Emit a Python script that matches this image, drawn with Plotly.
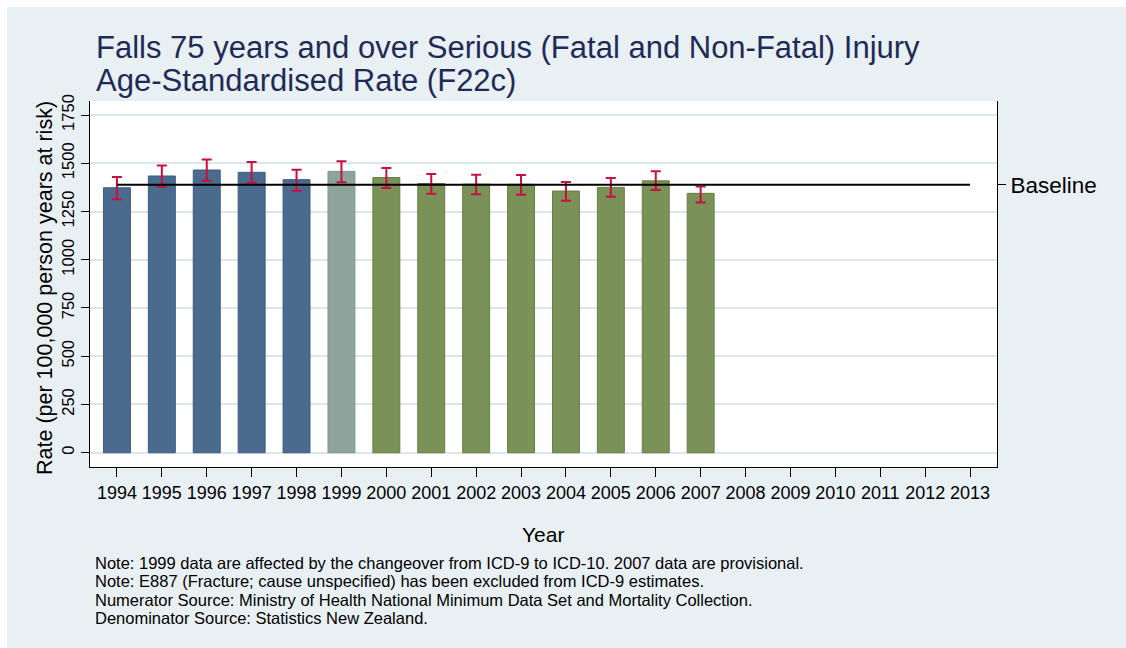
import plotly.graph_objects as go

# Age-standardised rate of serious falls injury, 75 years and over
years = [1994, 1995, 1996, 1997, 1998, 1999, 2000, 2001, 2002, 2003, 2004, 2005, 2006, 2007]
rate = [1373, 1434, 1465, 1453, 1415, 1458, 1426, 1395, 1392, 1391, 1356, 1375, 1409, 1344]
ci_upper = [1429, 1489, 1520, 1506, 1466, 1510, 1476, 1444, 1441, 1439, 1403, 1423, 1458, 1380]
ci_lower = [1314, 1378, 1409, 1399, 1358, 1401, 1372, 1342, 1339, 1337, 1306, 1327, 1361, 1297]
baseline = 1389
axis_years = list(range(1994, 2014))
y_ticks = [0, 250, 500, 750, 1000, 1250, 1500, 1750]

notes = [
    "Note: 1999 data are affected by the changeover from ICD-9 to ICD-10. 2007 data are provisional.",
    "Note: E887 (Fracture; cause unspecified) has been excluded from ICD-9 estimates.",
    "Numerator Source: Ministry of Health National Minimum Data Set and Mortality Collection.",
    "Denominator Source: Statistics New Zealand.",
]

BLUE, BLUE_EDGE = "#4A6A8E", "#3C5C80"
TRANS, TRANS_EDGE = "#8CA49B", "#7E978D"
GREEN, GREEN_EDGE = "#7A9157", "#667E45"
ERR = "#C8103F"
BG = "#E9F0F3"
FONT = "Liberation Sans, Arial, sans-serif"

# ICD-9 years, the changeover year, then ICD-10 years
fill = [BLUE if y < 1999 else TRANS if y == 1999 else GREEN for y in years]
edge = [BLUE_EDGE if y < 1999 else TRANS_EDGE if y == 1999 else GREEN_EDGE for y in years]

W, H = 1126, 648
L, R, T, B = 90, 997, 101, 467
y_range = [-74, 1822.6]
x_range = [1993.4, 2013.6]

fig = go.Figure()
fig.add_trace(go.Bar(
    x=years, y=rate, width=0.6,
    marker=dict(color=fill, line=dict(color=edge, width=1)),
    error_y=dict(type="data", symmetric=False,
                 array=[u - r for u, r in zip(ci_upper, rate)],
                 arrayminus=[r - l for r, l in zip(rate, ci_lower)],
                 color=ERR, thickness=2, width=5),
    showlegend=False, hoverinfo="skip",
))
fig.add_trace(go.Scatter(
    x=[axis_years[0], axis_years[-1]], y=[baseline, baseline], yaxis="y2",
    mode="lines", line=dict(color="black", width=2),
    showlegend=False, hoverinfo="skip",
))


def px_x(px):
    return (px - L) / (R - L)


def px_y(py):
    return (B - py) / (B - T)


annotations = [
    dict(text="Falls 75 years and over Serious (Fatal and Non-Fatal) Injury",
         x=px_x(94), y=px_y(48), xanchor="left", yanchor="middle",
         font=dict(size=31, color="#1E2B57", family=FONT)),
    dict(text="Age-Standardised Rate (F22c)",
         x=px_x(94), y=px_y(80), xanchor="left", yanchor="middle",
         font=dict(size=31, color="#1E2B57", family=FONT)),
    dict(text="Year", x=px_x(543), y=px_y(534), xanchor="center", yanchor="middle",
         font=dict(size=21, color="black", family=FONT)),
    dict(text="Rate (per 100,000 person years at risk)", textangle=-90,
         x=px_x(45), y=px_y(288), xanchor="center", yanchor="middle",
         font=dict(size=21.5, color="black", family=FONT)),
]
for i, line in enumerate(notes):
    annotations.append(dict(
        text=line, x=px_x(93), y=px_y(562.5 + 18.5 * i), xanchor="left", yanchor="middle",
        font=dict(size=16.5, color="black", family=FONT)))
for a in annotations:
    a.update(xref="paper", yref="paper", showarrow=False)

# thin white border along the top and left edges
shapes = [
    dict(type="rect", xref="paper", yref="paper", x0=px_x(0), x1=px_x(W), y0=px_y(0), y1=px_y(7),
         fillcolor="white", line=dict(width=0), layer="below"),
    dict(type="rect", xref="paper", yref="paper", x0=px_x(0), x1=px_x(7), y0=px_y(0), y1=px_y(H),
         fillcolor="white", line=dict(width=0), layer="below"),
]

fig.update_layout(
    width=W, height=H,
    margin=dict(l=L, r=W - R, t=T, b=H - B, pad=0),
    paper_bgcolor=BG, plot_bgcolor="white",
    font=dict(family=FONT, color="black"),
    annotations=annotations, shapes=shapes,
    bargap=0.4,
    xaxis=dict(range=x_range, tickvals=axis_years, ticks="outside", ticklen=9,
               tickcolor="black", showline=True, linecolor="black", linewidth=1,
               showgrid=False, zeroline=False, tickfont=dict(size=18)),
    yaxis=dict(range=y_range, tickvals=y_ticks, ticks="outside", ticklen=8,
               tickcolor="black", showline=True, linecolor="black", linewidth=1,
               showgrid=True, gridcolor="#DCE6EB", gridwidth=2, zeroline=False,
               tickangle=-90, tickfont=dict(size=16.5)),
    yaxis2=dict(range=y_range, overlaying="y", side="right", tickvals=[baseline],
                ticktext=["Baseline"], ticks="outside", ticklen=8, tickcolor="black",
                showline=True, linecolor="black", linewidth=1, showgrid=False,
                zeroline=False, tickfont=dict(size=22.5)),
)

fig.write_html("out.html")
